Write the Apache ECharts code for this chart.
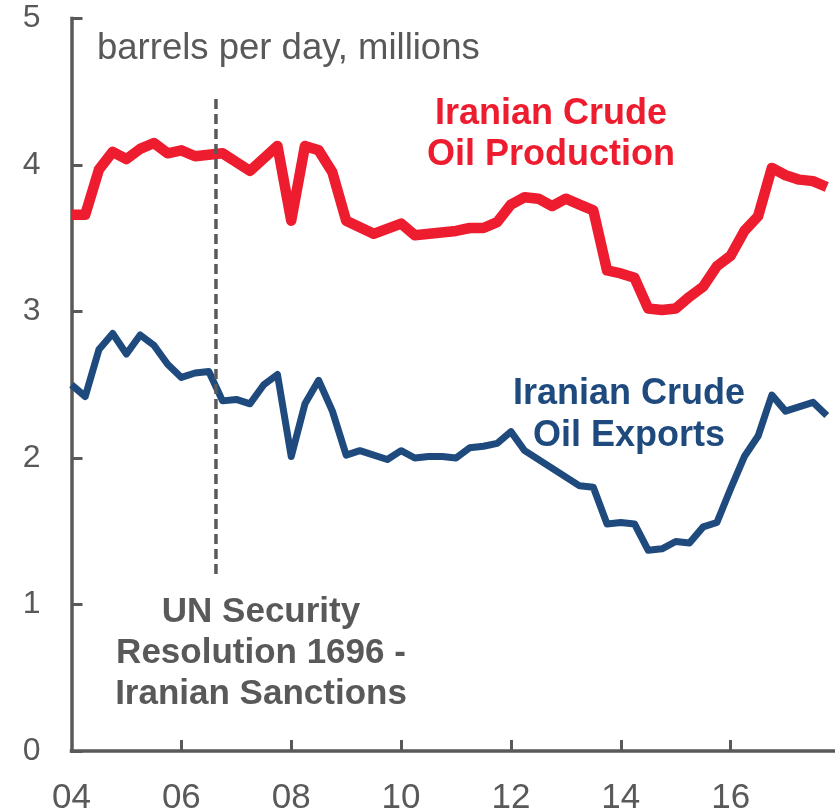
<!DOCTYPE html>
<html>
<head>
<meta charset="utf-8">
<title>Iranian Crude Oil Production and Exports</title>
<script src="https://cdn.jsdelivr.net/npm/echarts@6/dist/echarts.min.js"></script>
<style>
  html, body { margin: 0; padding: 0; background: #ffffff; }
  #chart { width: 835px; height: 811px; }
</style>
</head>
<body>
<div id="chart"></div>
<script>
// Quarterly readings, barrels per day (millions); dates as decimal years.
var productionDates = [
  2004.00, 2004.25, 2004.50, 2004.75, 2005.00, 2005.25, 2005.50, 2005.75,
  2006.00, 2006.25, 2006.75, 2007.00, 2007.25, 2007.75, 2008.00, 2008.25,
  2008.50, 2008.75, 2009.00, 2009.50, 2010.00, 2010.25, 2011.00, 2011.25,
  2011.50, 2011.75, 2012.00, 2012.25, 2012.50, 2012.75, 2013.00, 2013.25,
  2013.50, 2013.75, 2014.00, 2014.25, 2014.50, 2014.75, 2015.00, 2015.25,
  2015.50, 2015.75, 2016.00, 2016.25, 2016.50, 2016.75, 2017.00, 2017.25,
  2017.50, 2017.75
];
var productionValues = [
  3.66, 3.66, 3.97, 4.09, 4.04, 4.11, 4.15, 4.08,
  4.10, 4.06, 4.08, 4.02, 3.96, 4.13, 3.62, 4.13,
  4.10, 3.95, 3.62, 3.53, 3.60, 3.52, 3.55, 3.57,
  3.57, 3.61, 3.73, 3.78, 3.77, 3.72, 3.77, 3.73,
  3.69, 3.28, 3.26, 3.23, 3.02, 3.01, 3.02, 3.10,
  3.17, 3.31, 3.38, 3.55, 3.65, 3.98, 3.93, 3.90,
  3.89, 3.85
];

var exportDates = [
  2004.00, 2004.25, 2004.50, 2004.75, 2005.00, 2005.25, 2005.50, 2005.75,
  2006.00, 2006.25, 2006.50, 2006.75, 2007.00, 2007.25, 2007.50, 2007.75,
  2008.00, 2008.25, 2008.50, 2008.75, 2009.00, 2009.25, 2009.75, 2010.00,
  2010.25, 2010.50, 2010.75, 2011.00, 2011.25, 2011.50, 2011.75, 2012.00,
  2012.25, 2013.25, 2013.50, 2013.75, 2014.00, 2014.25, 2014.50, 2014.75,
  2015.00, 2015.25, 2015.50, 2015.75, 2016.00, 2016.25, 2016.50, 2016.75,
  2017.00, 2017.50, 2017.75
];
var exportValues = [
  2.50, 2.42, 2.74, 2.85, 2.71, 2.84, 2.77, 2.64,
  2.55, 2.58, 2.59, 2.39, 2.40, 2.37, 2.50, 2.57,
  2.01, 2.37, 2.53, 2.32, 2.02, 2.05, 1.99, 2.05,
  2.00, 2.01, 2.01, 2.00, 2.07, 2.08, 2.10, 2.18,
  2.05, 1.81, 1.80, 1.55, 1.56, 1.55, 1.37, 1.38,
  1.43, 1.42, 1.53, 1.56, 1.79, 2.01, 2.15, 2.43,
  2.32, 2.38, 2.29
];

// UN Security Council Resolution 1696 (July 2006) marker
var sanctionDate = 2006.63;
var sanctionSpan = [4.45, 1.18];

var xTickYears = [2006, 2008, 2010, 2012, 2014, 2016];
var xLabelYears = [2004, 2006, 2008, 2010, 2012, 2014, 2016];
var yTicks = [0, 1, 2, 3, 4, 5];

var RED = '#ED1C2E';
var BLUE = '#1F4A7E';
var GRAY = '#595959';
var FONT = '"Liberation Sans", Arial, sans-serif';

function pairs(xs, ys) {
  return xs.map(function (x, i) { return [x, ys[i]]; });
}

var chart = echarts.init(document.getElementById('chart'), null, { renderer: 'canvas' });

chart.setOption({
  animation: false,
  backgroundColor: '#ffffff',
  grid: {
    left: 71.5, right: 0, top: 18.5, bottom: 60,
    containLabel: false, outerBoundsMode: 'none'
  },
  xAxis: {
    type: 'value',
    min: 2004,
    max: 2017.9,
    interval: 2,
    splitLine: { show: false },
    axisLine: { show: true, lineStyle: { color: GRAY, width: 3.5, cap: 'square' } },
    axisTick: {
      show: true, inside: true, length: 11,
      customValues: xTickYears,
      lineStyle: { color: GRAY, width: 3 }
    },
    axisLabel: {
      show: true, margin: 30,
      customValues: xLabelYears,
      color: GRAY, fontSize: 35, fontFamily: FONT,
      formatter: function (v) { return String(v).slice(2); }
    }
  },
  yAxis: {
    type: 'value',
    min: 0,
    max: 5,
    interval: 1,
    splitLine: { show: false },
    axisLine: { show: true, lineStyle: { color: GRAY, width: 3.5, cap: 'square' } },
    axisTick: {
      show: true, inside: true, length: 11,
      customValues: yTicks,
      lineStyle: { color: GRAY, width: 3 }
    },
    axisLabel: {
      show: true, margin: 31,
      color: GRAY, fontSize: 32, fontFamily: FONT
    }
  },
  series: [
    {
      name: 'Iranian Crude Oil Exports',
      type: 'line',
      data: pairs(exportDates, exportValues),
      showSymbol: false,
      lineStyle: { color: BLUE, width: 7, join: 'round', cap: 'butt' },
      z: 2
    },
    {
      name: 'Iranian Crude Oil Production',
      type: 'line',
      data: pairs(productionDates, productionValues),
      showSymbol: false,
      lineStyle: { color: RED, width: 10.5, join: 'round', cap: 'butt' },
      z: 3
    },
    {
      name: 'UN Security Resolution 1696',
      type: 'line',
      data: [[sanctionDate, sanctionSpan[0]], [sanctionDate, sanctionSpan[1]]],
      showSymbol: false,
      lineStyle: { color: GRAY, width: 3.5, type: [10, 5], cap: 'butt' },
      z: 5
    }
  ],
  graphic: [
    {
      type: 'text', left: 97, top: 30,
      style: { text: 'barrels per day, millions', fill: GRAY, fontSize: 36.5, fontFamily: FONT }
    },
    {
      type: 'text', x: 551, y: 135,
      style: {
        text: 'Iranian Crude\nOil Production', fill: RED,
        fontSize: 36, fontWeight: 'bold', fontFamily: FONT, lineHeight: 41,
        align: 'center', verticalAlign: 'middle'
      }
    },
    {
      type: 'text', x: 629, y: 415,
      style: {
        text: 'Iranian Crude\nOil Exports', fill: BLUE,
        fontSize: 36, fontWeight: 'bold', fontFamily: FONT, lineHeight: 42,
        align: 'center', verticalAlign: 'middle'
      }
    },
    {
      type: 'text', x: 261, y: 653,
      style: {
        text: 'UN Security\nResolution 1696 -\nIranian Sanctions', fill: GRAY,
        fontSize: 35, fontWeight: 'bold', fontFamily: FONT, lineHeight: 41,
        align: 'center', verticalAlign: 'middle'
      }
    }
  ]
});
</script>
</body>
</html>
